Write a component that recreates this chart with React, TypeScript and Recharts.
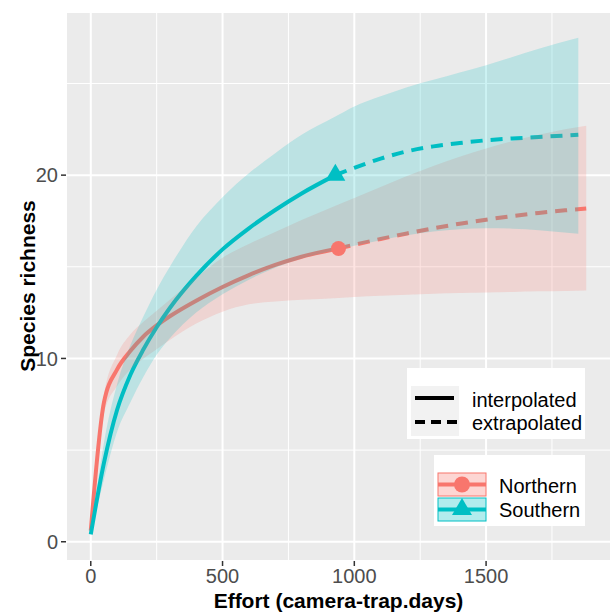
import React from 'react'
import {
  ComposedChart,
  Line,
  Area,
  XAxis,
  YAxis,
  CartesianGrid,
  ReferenceLine,
} from 'recharts'

// Northern site: rarefaction / extrapolation curve
const northEffort = [0, 50, 100, 150, 200, 250, 300, 400, 500, 600, 700, 800, 940, 1000, 1100, 1200, 1300, 1400, 1500, 1600, 1700, 1800, 1880]
const northRichness = [0.6, 7.6, 9.4, 10.4, 11.2, 11.8, 12.3, 13.15, 13.9, 14.55, 15.1, 15.55, 16.0, 16.2, 16.52, 16.82, 17.1, 17.35, 17.57, 17.77, 17.94, 18.08, 18.18]
const northLower = [0.5, 7.0, 8.5, 9.4, 10.0, 10.5, 11.0, 11.9, 12.55, 12.95, 13.1, 13.2, 13.3, 13.35, 13.42, 13.48, 13.53, 13.57, 13.6, 13.63, 13.66, 13.68, 13.7]
const northUpper = [0.7, 8.0, 10.2, 11.3, 12.0, 12.6, 13.2, 14.4, 15.5, 16.25, 16.9, 17.55, 18.4, 18.75, 19.35, 19.95, 20.5, 21.0, 21.45, 21.85, 22.2, 22.5, 22.7]
const northObserved = 12

// Southern site
const southEffort = [0, 50, 100, 150, 200, 250, 300, 400, 500, 600, 700, 800, 928, 1000, 1100, 1200, 1300, 1400, 1500, 1600, 1700, 1850]
const southRichness = [0.4, 4.3, 7.2, 9.1, 10.5, 11.7, 12.75, 14.5, 15.95, 17.1, 18.1, 19.0, 20.0, 20.4, 20.9, 21.3, 21.57, 21.75, 21.9, 22.0, 22.08, 22.2]
const southLower = [0.4, 3.4, 6.0, 7.6, 9.0, 10.2, 11.1, 12.5, 13.5, 14.3, 14.95, 15.45, 15.9, 16.15, 16.45, 16.72, 16.92, 17.05, 17.1, 17.08, 17.0, 16.8]
const southUpper = [0.4, 5.4, 8.6, 10.7, 12.3, 13.75, 15.0, 17.2, 18.8, 20.1, 21.2, 22.2, 23.2, 23.75, 24.3, 24.8, 25.2, 25.6, 26.0, 26.45, 26.9, 27.5]
const southObserved = 12

const xTicks = [0, 500, 1000, 1500]
const xMinor = [250, 750, 1250, 1750]
const yTicks = [0, 10, 20]
const yMinor = [5, 15, 25]

const RED = '#F8766D'
const CYAN = '#00BFC4'
const FONT = "'Liberation Sans', Arial, sans-serif"

type Row = { x: number; y: number; band: [number, number] }

const build = (xs: number[], ys: number[], lo: number[], hi: number[]): Row[] =>
  xs.map((x, i) => ({ x, y: ys[i], band: [lo[i], hi[i]] }))

const north = build(northEffort, northRichness, northLower, northUpper)
const south = build(southEffort, southRichness, southLower, southUpper)

const northInterp = north.slice(0, northObserved + 1)
const northExtrap = north.slice(northObserved)
const southInterp = south.slice(0, southObserved + 1)
const southExtrap = south.slice(southObserved)

const circleDot = (last: number) => (props: any) => {
  const { cx, cy, index } = props
  if (index !== last) return <g key={index} />
  return <circle key={index} cx={cx} cy={cy} r={7.5} fill={RED} />
}

const triangleDot = (last: number) => (props: any) => {
  const { cx, cy, index } = props
  if (index !== last) return <g key={index} />
  const w = 10
  const h = 17
  return (
    <polygon
      key={index}
      points={`${cx},${cy - (h * 2) / 3} ${cx - w},${cy + h / 3} ${cx + w},${cy + h / 3}`}
      fill={CYAN}
    />
  )
}

const tickStyle = { fontSize: 20, fill: '#4D4D4D', fontFamily: FONT }

export default function App() {
  return (
    <div style={{ position: 'absolute', left: 0, top: 0, width: 611, height: 613, background: '#fff', fontFamily: FONT }}>
      <ComposedChart width={611} height={613} margin={{ top: 12, right: 0, bottom: 0, left: 0 }}>
        <CartesianGrid fill="#EBEBEB" stroke="#FFFFFF" strokeWidth={2} />
        {xMinor.map((v) => (
          <ReferenceLine key={'x' + v} x={v} stroke="#FFFFFF" strokeWidth={1} zIndex={-90} />
        ))}
        {yMinor.map((v) => (
          <ReferenceLine key={'y' + v} y={v} stroke="#FFFFFF" strokeWidth={1} zIndex={-90} />
        ))}
        <XAxis
          type="number"
          dataKey="x"
          domain={[-94, 1974]}
          allowDataOverflow
          ticks={xTicks}
          height={52}
          axisLine={false}
          tickSize={5}
          tickMargin={3}
          tickLine={{ stroke: '#333333', strokeWidth: 1.5 }}
          tick={tickStyle}
        />
        <YAxis
          type="number"
          domain={[-1.05, 28.9]}
          allowDataOverflow
          ticks={yTicks}
          width={66}
          axisLine={false}
          tickSize={5}
          tickMargin={3}
          tickLine={{ stroke: '#333333', strokeWidth: 1.5 }}
          tick={tickStyle}
        />

        <Line data={northInterp} dataKey="y" type="monotone" stroke={RED} strokeWidth={4} dot={circleDot(northObserved)} activeDot={false} isAnimationActive={false} />
        <Line data={northExtrap} dataKey="y" type="monotone" stroke={RED} strokeWidth={4} strokeDasharray="12 8" dot={false} activeDot={false} isAnimationActive={false} />
        <Line data={southInterp} dataKey="y" type="monotone" stroke={CYAN} strokeWidth={4} dot={triangleDot(southObserved)} activeDot={false} isAnimationActive={false} />
        <Line data={southExtrap} dataKey="y" type="monotone" stroke={CYAN} strokeWidth={4} strokeDasharray="12 8" dot={false} activeDot={false} isAnimationActive={false} />

        <Area data={north} dataKey="band" type="monotone" stroke="none" fill={RED} fillOpacity={0.2} activeDot={false} isAnimationActive={false} zIndex={450} />
        <Area data={south} dataKey="band" type="monotone" stroke="none" fill={CYAN} fillOpacity={0.2} activeDot={false} isAnimationActive={false} zIndex={450} />
      </ComposedChart>

      <div style={{ position: 'absolute', left: 0, width: 611, paddingLeft: 66, boxSizing: 'border-box', top: 590, textAlign: 'center', fontSize: 21, lineHeight: '21px', fontWeight: 'bold', color: '#000' }}>
        Effort (camera-trap.days)
      </div>
      <div style={{ position: 'absolute', left: 27, top: 286, transform: 'translate(-50%, -50%) rotate(-90deg)', whiteSpace: 'nowrap', fontSize: 21, lineHeight: '21px', fontWeight: 'bold', color: '#000' }}>
        Species richness
      </div>

      <div style={{ position: 'absolute', left: 407, top: 368, width: 178, height: 71, background: '#fff' }}>
        <svg width={48} height={50} style={{ position: 'absolute', left: 4, top: 18 }}>
          <rect x={0} y={0} width={48} height={50} fill="#F2F2F2" />
          <line x1={4} x2={43} y1={12} y2={12} stroke="#000" strokeWidth={4} />
          <line x1={4} x2={46} y1={36} y2={36} stroke="#000" strokeWidth={4} strokeDasharray="10 6" />
        </svg>
        <div style={{ position: 'absolute', left: 65, top: 20, fontSize: 20, lineHeight: '24px', color: '#000' }}>interpolated</div>
        <div style={{ position: 'absolute', left: 65, top: 43, fontSize: 20, lineHeight: '24px', color: '#000' }}>extrapolated</div>
      </div>

      <div style={{ position: 'absolute', left: 434, top: 455, width: 151, height: 71, background: '#fff' }}>
        <svg width={50} height={50} style={{ position: 'absolute', left: 3, top: 17 }}>
          <rect x={1} y={1} width={48} height={23} fill={RED} fillOpacity={0.3} stroke={RED} strokeWidth={1} />
          <line x1={1} x2={49} y1={12.5} y2={12.5} stroke={RED} strokeWidth={4} />
          <circle cx={25} cy={12.5} r={8} fill={RED} />
          <rect x={1} y={26} width={48} height={23} fill={CYAN} fillOpacity={0.3} stroke={CYAN} strokeWidth={1} />
          <line x1={1} x2={49} y1={37.5} y2={37.5} stroke={CYAN} strokeWidth={4} />
          <polygon points="25,26 15,43 35,43" fill={CYAN} />
        </svg>
        <div style={{ position: 'absolute', left: 65, top: 19, fontSize: 20, lineHeight: '24px', color: '#000' }}>Northern</div>
        <div style={{ position: 'absolute', left: 65, top: 43, fontSize: 20, lineHeight: '24px', color: '#000' }}>Southern</div>
      </div>
    </div>
  )
}
